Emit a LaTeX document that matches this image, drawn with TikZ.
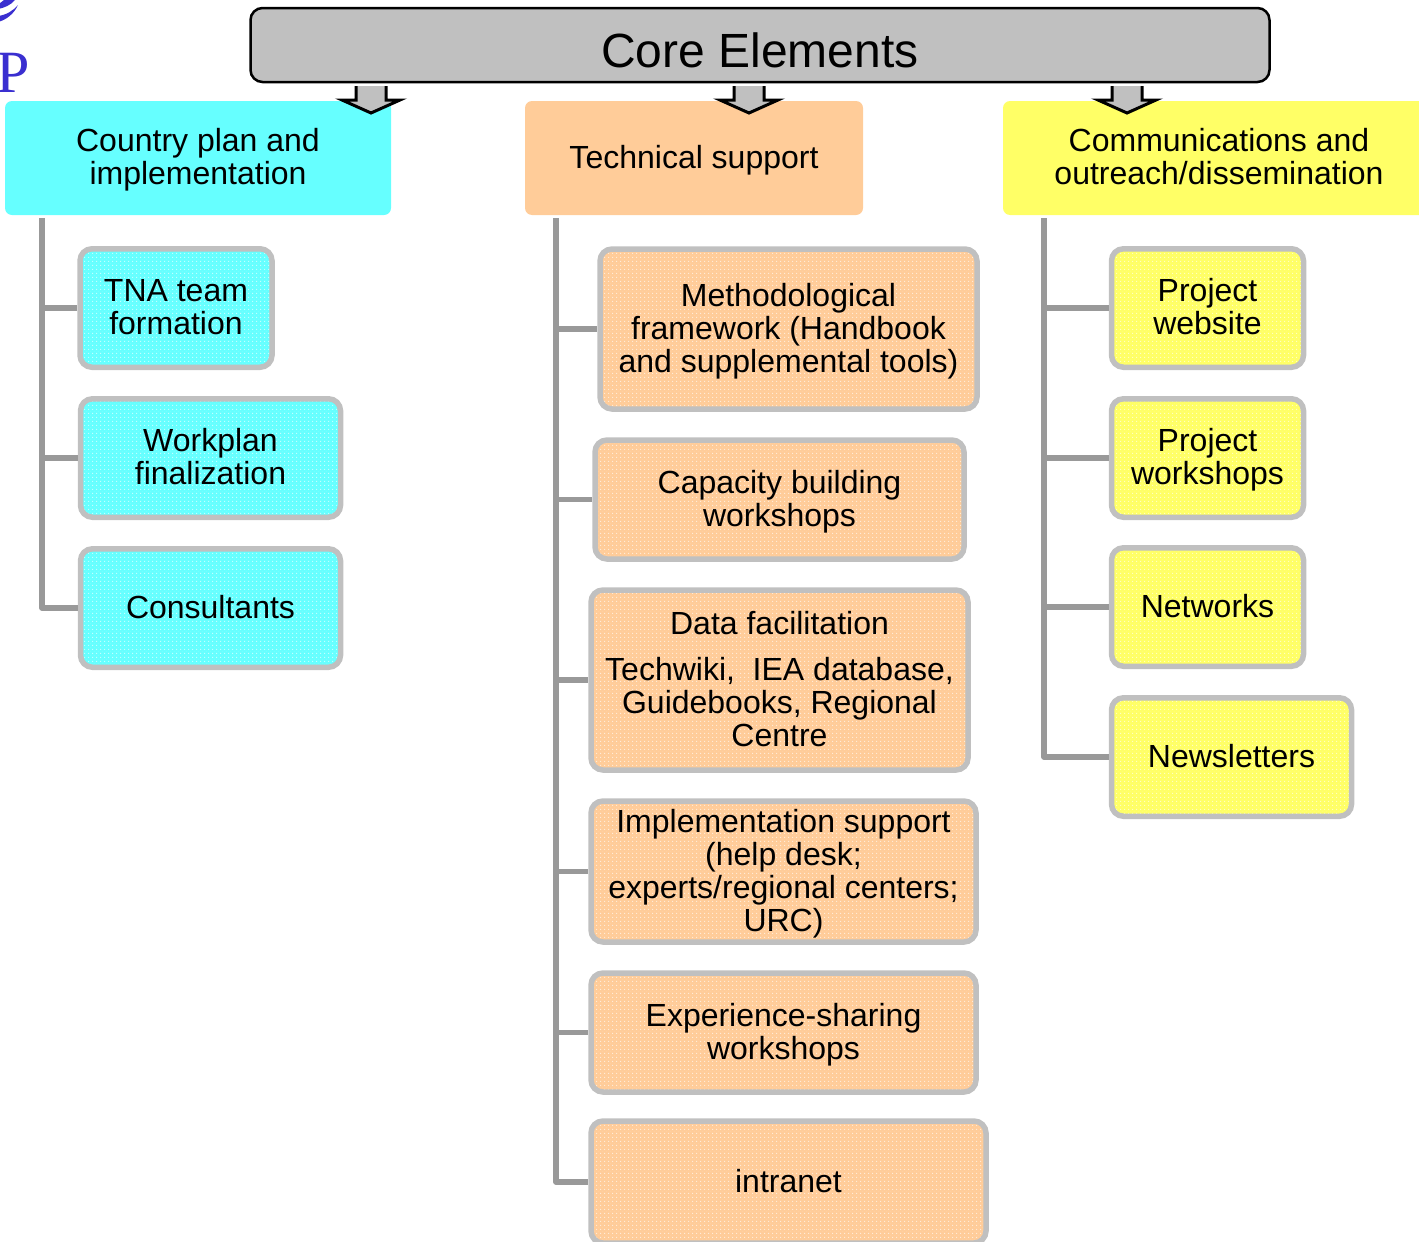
\documentclass[tikz,border=0pt]{standalone}
\usepackage{fontspec}
\setmainfont{Liberation Sans}
\newfontfamily\logofont{Liberation Serif}
\usetikzlibrary{patterns}
\pgfdeclarepatternformonly{meshdots}{\pgfqpoint{0pt}{0pt}}{\pgfqpoint{2pt}{2pt}}{\pgfqpoint{4pt}{4pt}}{
  \pgfpathrectangle{\pgfqpoint{0pt}{0pt}}{\pgfqpoint{1pt}{1pt}}
  \pgfpathrectangle{\pgfqpoint{2pt}{2pt}}{\pgfqpoint{1pt}{1pt}}
  \pgfusepath{fill}}
\definecolor{bordergray}{HTML}{C0C0C0}
\definecolor{linegray}{HTML}{999999}
\definecolor{cyanbox}{HTML}{66FFFF}
\definecolor{orangebox}{HTML}{FFCC99}
\definecolor{yellowbox}{HTML}{FFFF66}
\definecolor{logoblue}{HTML}{3A2FD0}
\newcommand{\tl}{\rule{0pt}{30pt}}
\tikzset{
  every node/.style={align=center,inner sep=0pt,font=\fontsize{32}{33}\selectfont},
  label/.style={execute at begin node={\rule{0pt}{30pt}},execute at end node={\strut}},
  header/.style={label,rounded corners=7pt,draw=none,minimum height=114pt,fill=#1},
  sub/.style={label,rounded corners=12pt,draw=bordergray,line width=5.5pt,
    preaction={fill=#1},pattern=meshdots,pattern color=white!60!#1},
  link/.style={draw=linegray,line width=5.5pt,line join=round},
  blockarrow/.style={draw=black,line width=3pt,fill=bordergray,line join=miter},
}
\newcommand{\blockarrowat}[1]{%
  \path[blockarrow] ([xshift=-15pt,yshift=-2pt]#1) -- ++(0,14) -- ++(-14,0) -- ++(29,13) -- ++(29,-13) -- ++(-14,0) -- ++(0,-14);}
\begin{document}
\begin{tikzpicture}[x=1pt,y=-1pt]
\useasboundingbox (0,0) rectangle (1419,1242);
\clip (0,0) rectangle (1419,1242);

% logo fragment
\node[text=logoblue,anchor=base west,font=\logofont\fontsize{60}{60}\selectfont] (logop) at (-4,92) {P};
\fill[logoblue] (-2,22) .. controls (6,20) and (14,14) .. (18,5) .. controls (13,11) and (6,15) .. (-2,16) -- cycle;
\fill[logoblue] (-2,9) .. controls (4,8) and (11,5) .. (15,0) -- (4,0) .. controls (2,2) and (0,3) .. (-2,4) -- cycle;

% headers
\node[header=cyanbox,minimum width=386pt] (hA) at (198,158) {\tl Country plan and\\implementation};
\node[header=orangebox,minimum width=338pt] (hB) at (694,158) {Technical support};
\node[header=yellowbox,minimum width=432pt] (hC) at (1219,158) {\tl Communications and\\outreach/dissemination};

% top box anchors for block arrows
\coordinate (arrA) at (371,84);
\coordinate (arrB) at (749,84);
\coordinate (arrC) at (1127,84);
\blockarrowat{arrA}
\blockarrowat{arrB}
\blockarrowat{arrC}
\node[rounded corners=12pt,draw=black,line width=2.5pt,fill=bordergray,minimum width=1019pt,minimum height=74pt,font=\fontsize{48}{48}\selectfont] (core) at (760,45) {\raisebox{-23pt}[0pt][0pt]{Core Elements}};

% trunks
\coordinate (tA) at (42,218);
\coordinate (tB) at (556,218);
\coordinate (tC) at (1044,218);

% column A
\node[sub=cyanbox,minimum width=192pt,minimum height=118.5pt] (a1) at (176,308) {\tl TNA team\\formation};
\node[sub=cyanbox,minimum width=260pt,minimum height=118.5pt] (a2) at (210.5,458) {\tl Workplan\\finalization};
\node[sub=cyanbox,minimum width=260pt,minimum height=118.5pt] (a3) at (210.5,608) {Consultants};

% column B
\node[sub=orangebox,minimum width=377pt,minimum height=160pt] (b1) at (788.5,329) {\tl Methodological\\framework (Handbook\\and supplemental tools)};
\node[sub=orangebox,minimum width=369pt,minimum height=119pt] (b2) at (779.5,499.5) {\tl Capacity building\\workshops};
\node[sub=orangebox,minimum width=377pt,minimum height=180pt] (b3) at (779.5,680) {\tl Data facilitation\\[13pt]Techwiki,~~IEA database,\\Guidebooks, Regional\\Centre};
\node[sub=orangebox,minimum width=385pt,minimum height=141pt] (b4) at (783.5,871.5) {\tl Implementation support\\(help desk;\\experts/regional centers;\\URC)};
\node[sub=orangebox,minimum width=385pt,minimum height=119pt] (b5) at (783.5,1032.5) {\tl Experience-sharing\\workshops};
\node[sub=orangebox,minimum width=395pt,minimum height=122pt] (b6) at (788.5,1182) {intranet};

% column C
\node[sub=yellowbox,minimum width=192pt,minimum height=118.5pt] (c1) at (1207.5,308) {\tl Project\\website};
\node[sub=yellowbox,minimum width=192pt,minimum height=118.5pt] (c2) at (1207.5,458) {\tl Project\\workshops};
\node[sub=yellowbox,minimum width=192pt,minimum height=118.5pt] (c3) at (1207.5,607) {Networks};
\node[sub=yellowbox,minimum width=240pt,minimum height=118.5pt] (c4) at (1231.5,757) {Newsletters};

% connectors
\foreach \n in {a1,a2,a3} \draw[link] (tA) |- (\n.west);
\foreach \n in {b1,b2,b3,b4,b5,b6} \draw[link] (tB) |- (\n.west);
\foreach \n in {c1,c2,c3,c4} \draw[link] (tC) |- (\n.west);
\end{tikzpicture}
\end{document}
